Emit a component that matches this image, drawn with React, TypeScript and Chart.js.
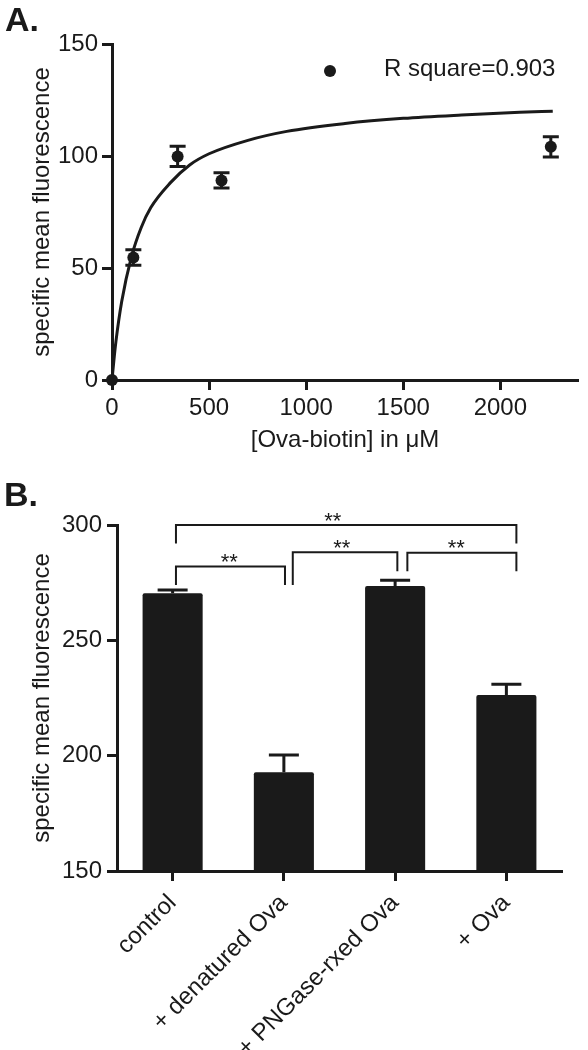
import React, { useEffect, useRef } from "react";
import { Chart, registerables } from "chart.js";

Chart.register(...registerables);

// ---------- Panel A data ----------
const doseX = [0, 110, 338, 564, 2260];
const meanA = [0, 54.7, 99.8, 89.1, 104.1];
const semA = [0, 3.5, 4.5, 3.4, 4.5];
// fitted saturation curve
const curveX = [0, 10, 20, 50, 100, 150, 200, 300, 400, 500, 700, 900, 1200, 1500, 1800, 2100, 2270];
const curveY = [0, 9, 17, 35, 55, 68, 77, 88, 96, 101, 107, 111, 114.5, 116.8, 118.3, 119.5, 120];
const xTicksA = [0, 500, 1000, 1500, 2000];
const yTicksA = [0, 50, 100, 150];
const legendA = "R square=0.903";
const yTitle = "specific mean fluorescence";
const xTitleA = "[Ova-biotin] in μM";

// ---------- Panel B data ----------
const groups = ["control", "+ denatured Ova", "+ PNGase-rxed Ova", "+ Ova"];
const meanB = [270.4, 192.8, 273.6, 226.3];
const semB = [1.4, 7.5, 2.4, 4.7];
const yTicksB = [150, 200, 250, 300];
const bracketStart = [0.03, 1.08, 2.11, 0.03];
const bracketEnd = [1.01, 2.02, 3.09, 3.09];
const bracketLevel = [282, 288.2, 288, 300];
const bracketLeftEnd = [274, 274, 280, 292];
const bracketRightEnd = [274, 280, 280, 292];
const starPos = [0.51, 1.52, 2.55, 1.44];
const starText = ["**", "**", "**", "**"];

const INK = "#1a1a1a";
const FAMILY = "'Liberation Sans', Arial, Helvetica, sans-serif";
Chart.defaults.font.family = FAMILY;
Chart.defaults.color = INK;

const errorBarsA = {
  id: "errorBarsA",
  afterDatasetsDraw(chart: any) {
    const { ctx } = chart;
    const x = chart.scales.x;
    const y = chart.scales.y;
    ctx.save();
    ctx.strokeStyle = INK;
    ctx.lineWidth = 3;
    doseX.forEach((xv, i) => {
      const e = semA[i];
      if (!e) return;
      const px = x.getPixelForValue(xv);
      const top = y.getPixelForValue(meanA[i] + e);
      const bot = y.getPixelForValue(meanA[i] - e);
      ctx.beginPath();
      ctx.moveTo(px, top);
      ctx.lineTo(px, bot);
      ctx.moveTo(px - 8, top);
      ctx.lineTo(px + 8, top);
      ctx.moveTo(px - 8, bot);
      ctx.lineTo(px + 8, bot);
      ctx.stroke();
    });
    ctx.restore();
  },
  afterDraw(chart: any) {
    const { ctx, chartArea } = chart;
    const cx = chartArea.left + 218;
    const cy = chartArea.top + 27;
    ctx.save();
    ctx.fillStyle = INK;
    ctx.beginPath();
    ctx.arc(cx, cy, 6, 0, Math.PI * 2);
    ctx.fill();
    ctx.font = `24px ${FAMILY}`;
    ctx.textAlign = "left";
    ctx.textBaseline = "middle";
    ctx.fillText(legendA, cx + 54, cy - 1.5);
    ctx.restore();
  },
};

const annotB = {
  id: "annotB",
  afterDatasetsDraw(chart: any) {
    const { ctx } = chart;
    const x = chart.scales.x;
    const y = chart.scales.y;
    ctx.save();
    ctx.strokeStyle = INK;
    ctx.lineWidth = 3;
    meanB.forEach((m, i) => {
      const px = x.getPixelForValue(i);
      const top = y.getPixelForValue(m + semB[i]);
      const base = y.getPixelForValue(m);
      ctx.beginPath();
      ctx.moveTo(px, base);
      ctx.lineTo(px, top);
      ctx.moveTo(px - 15, top);
      ctx.lineTo(px + 15, top);
      ctx.stroke();
    });
    ctx.lineWidth = 2;
    ctx.fillStyle = INK;
    ctx.font = `22px ${FAMILY}`;
    ctx.textAlign = "center";
    ctx.textBaseline = "alphabetic";
    bracketLevel.forEach((lvl, k) => {
      const xl = x.getPixelForValue(bracketStart[k]);
      const xr = x.getPixelForValue(bracketEnd[k]);
      const yl = y.getPixelForValue(lvl);
      ctx.beginPath();
      ctx.moveTo(xl, y.getPixelForValue(bracketLeftEnd[k]));
      ctx.lineTo(xl, yl);
      ctx.lineTo(xr, yl);
      ctx.lineTo(xr, y.getPixelForValue(bracketRightEnd[k]));
      ctx.stroke();
      ctx.fillText(starText[k], x.getPixelForValue(starPos[k]), yl + 2.5);
    });
    ctx.restore();
  },
};

const tickFont = { size: 24, family: FAMILY };
const titleFont = { size: 24, family: FAMILY };
const plain = (v: any) => String(v);

export default function App() {
  const refA = useRef<HTMLCanvasElement>(null);
  const refB = useRef<HTMLCanvasElement>(null);

  useEffect(() => {
    document.body.style.margin = "0";
    const chartA = new Chart(refA.current as HTMLCanvasElement, {
      type: "scatter",
      data: {
        datasets: [
          {
            type: "line",
            data: curveX.map((xv, i) => ({ x: xv, y: curveY[i] })),
            borderColor: INK,
            borderWidth: 3,
            pointRadius: 0,
            cubicInterpolationMode: "monotone",
            fill: false,
            clip: false,
            order: 2,
          } as any,
          {
            type: "scatter",
            data: doseX.map((xv, i) => ({ x: xv, y: meanA[i] })),
            pointRadius: 6,
            backgroundColor: INK,
            borderColor: INK,
            borderWidth: 0,
            clip: false,
            order: 1,
          } as any,
        ],
      },
      options: {
        responsive: false,
        animation: false,
        layout: { padding: { top: 44, right: 10, left: 0, bottom: 0 } },
        plugins: { legend: { display: false }, tooltip: { enabled: false } },
        scales: {
          x: {
            type: "linear",
            min: 0,
            max: 2400,
            afterBuildTicks(s: any) {
              s.ticks = xTicksA.map((v) => ({ value: v }));
            },
            ticks: { font: tickFont, color: INK, padding: 4, callback: plain },
            grid: { drawOnChartArea: false, tickLength: 10, tickWidth: 3, tickColor: INK, color: INK },
            border: { display: true, width: 3, color: INK },
            title: { display: true, text: xTitleA, font: titleFont, color: INK, padding: { top: 0, bottom: 15 } },
            afterFit(s: any) {
              s.height = 90;
            },
          },
          y: {
            type: "linear",
            min: 0,
            max: 150,
            afterBuildTicks(s: any) {
              s.ticks = yTicksA.map((v) => ({ value: v }));
            },
            ticks: { font: tickFont, color: INK, padding: 4, callback: plain },
            grid: { drawOnChartArea: false, tickLength: 10, tickWidth: 3, tickColor: INK, color: INK },
            border: { display: true, width: 3, color: INK },
            title: { display: true, text: yTitle, font: titleFont, color: INK, padding: { top: 28, bottom: 0 } },
            afterFit(s: any) {
              s.width = 112;
            },
          },
        },
      } as any,
      plugins: [errorBarsA],
    });

    const chartB = new Chart(refB.current as HTMLCanvasElement, {
      type: "bar",
      data: {
        labels: groups,
        datasets: [
          {
            data: meanB,
            backgroundColor: INK,
            borderColor: INK,
            borderWidth: 0,
            borderRadius: 2,
            borderSkipped: "bottom",
            categoryPercentage: 0.6,
            barPercentage: 0.9,
          } as any,
        ],
      },
      options: {
        responsive: false,
        animation: false,
        layout: { padding: { top: 55, right: 26, left: 0, bottom: 0 } },
        plugins: { legend: { display: false }, tooltip: { enabled: false } },
        scales: {
          x: {
            ticks: { font: tickFont, color: INK, maxRotation: 45, minRotation: 45, autoSkip: false, padding: 8 },
            grid: { offset: false, drawOnChartArea: false, tickLength: 10, tickWidth: 3, tickColor: INK, color: INK },
            border: { display: true, width: 3, color: INK },
            afterFit(s: any) {
              s.height = 179;
            },
          },
          y: {
            min: 150,
            max: 300,
            afterBuildTicks(s: any) {
              s.ticks = yTicksB.map((v) => ({ value: v }));
            },
            ticks: { font: tickFont, color: INK, padding: 5, callback: plain },
            grid: { drawOnChartArea: false, tickLength: 10, tickWidth: 3, tickColor: INK, color: INK },
            border: { display: true, width: 3, color: INK },
            title: { display: true, text: yTitle, font: titleFont, color: INK, padding: { top: 28, bottom: 0 } },
            afterFit(s: any) {
              s.width = 117;
            },
          },
        },
      } as any,
      plugins: [annotB],
    });

    return () => {
      chartA.destroy();
      chartB.destroy();
    };
  }, []);

  const panelLabel: React.CSSProperties = {
    position: "absolute",
    fontFamily: FAMILY,
    fontWeight: "bold",
    fontSize: 34,
    lineHeight: "34px",
    color: INK,
    zIndex: 2,
  };

  return (
    <div style={{ position: "relative", width: 588, height: 1050, background: "#fff", overflow: "hidden" }}>
      <canvas ref={refA} width={588} height={470} style={{ position: "absolute", left: 0, top: 0 }} />
      <canvas ref={refB} width={588} height={580} style={{ position: "absolute", left: 0, top: 470 }} />
      <div style={{ ...panelLabel, left: 5, top: 2 }}>A.</div>
      <div style={{ ...panelLabel, left: 4, top: 477 }}>B.</div>
    </div>
  );
}
